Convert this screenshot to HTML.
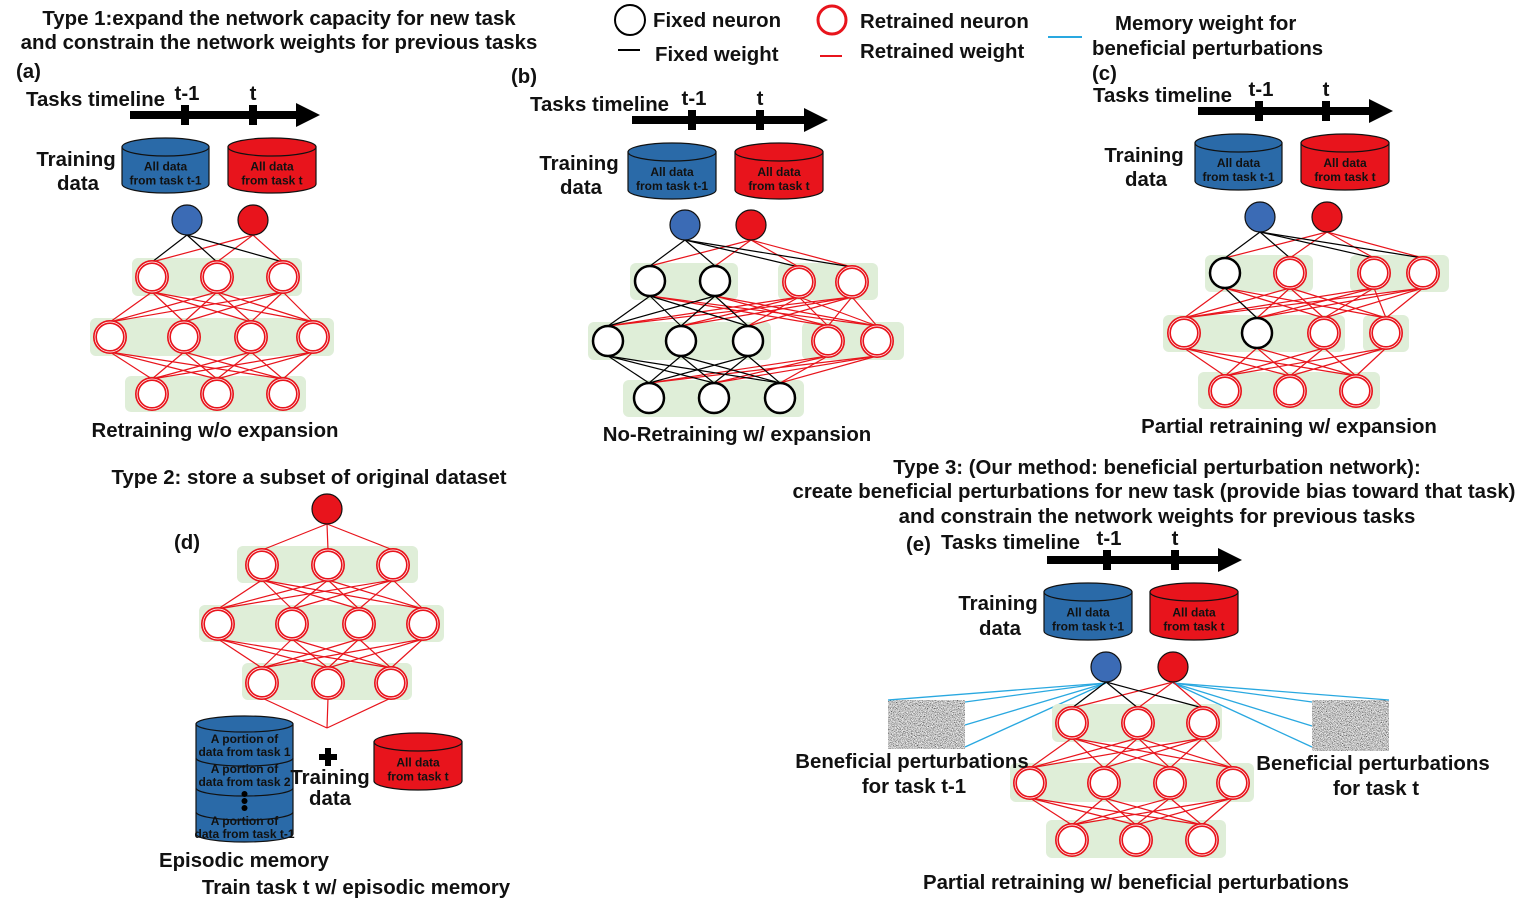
<!DOCTYPE html>
<html><head><meta charset="utf-8"><style>
body{margin:0;background:#fff}
svg text{font-family:"Liberation Sans",sans-serif;font-weight:bold;fill:#111}
</style></head><body>
<svg id="s" width="1522" height="900" viewBox="0 0 1522 900" xmlns="http://www.w3.org/2000/svg">
<defs>
<filter id="noise" x="0" y="0" width="100%" height="100%"><feTurbulence type="turbulence" baseFrequency="1.6" numOctaves="1" seed="3"/><feColorMatrix type="matrix" values="0 0 0 0 0  0 0 0 0 0  0 0 0 0 0  0 0 0 0 0"/><feColorMatrix type="matrix" values="0 0 0 0 0.5 0 0 0 0 0.5 0 0 0 0 0.5 0 0 0 0 1"/></filter>
<filter id="noise2" x="0" y="0" width="100%" height="100%"><feTurbulence type="fractalNoise" baseFrequency="1.2" numOctaves="1" seed="7"/><feColorMatrix type="matrix" values="2.2 0 0 0 -0.55  2.2 0 0 0 -0.55  2.2 0 0 0 -0.55  0 0 0 0 1"/></filter>
</defs>
<g id="g"></g>
</svg>
<script>
const g=document.getElementById('g');let h='';const FS=20.4;
function T(x,y,t,sz,anc){h+=`<text x="${x}" y="${y}" font-size="${sz||FS}" text-anchor="${anc||'start'}">${t}</text>`;}
function L(a,b,c,d,col,w){h+=`<line x1="${a}" y1="${b}" x2="${c}" y2="${d}" stroke="${col}" stroke-width="${w||1.2}"/>`;}
function R(x1,y1,x2,y2){h+=`<rect x="${x1}" y="${y1}" width="${x2-x1}" height="${y2-y1}" rx="6" fill="#dfeed8"/>`;}
function N(x,y,t){if(t=='k')h+=`<circle cx="${x}" cy="${y}" r="15" fill="#fff" stroke="#000" stroke-width="2.5"/>`;
 else if(t=='r')h+=`<circle cx="${x}" cy="${y}" r="15" fill="#fff" stroke="#e8141c" stroke-width="4"/><circle cx="${x}" cy="${y}" r="15" fill="none" stroke="#fff" stroke-width="0.7"/>`;
 else h+=`<circle cx="${x}" cy="${y}" r="15" fill="${t=='B'?'#3b6bb5':'#e8141c'}" stroke="#111" stroke-width="1.2"/>`;}
function cyl(x1,y1,x2,y2,col,l1,l2){const rx=(x2-x1)/2,cx=x1+rx,ry=9;
 h+=`<path d="M${x1} ${y1+ry} L${x1} ${y2-ry} A${rx} ${ry} 0 0 0 ${x2} ${y2-ry} L${x2} ${y1+ry} Z" fill="${col}" stroke="#111" stroke-width="1.2"/><ellipse cx="${cx}" cy="${y1+ry}" rx="${rx}" ry="${ry}" fill="${col}" stroke="#111" stroke-width="1.2"/>`;
 T(cx,(y1+y2)/2+5,l1,12,'middle');T(cx,(y1+y2)/2+19,l2,12,'middle');}
function arrow(x1,x2,y,t1,t2){h+=`<rect x="${x1}" y="${y-4}" width="${x2-x1-22}" height="8" fill="#000"/><polygon points="${x2-24},${y-12} ${x2},${y} ${x2-24},${y+12}" fill="#000"/>`;
 h+=`<rect x="${t1-4}" y="${y-10}" width="8" height="20" fill="#000"/><rect x="${t2-4}" y="${y-10}" width="8" height="20" fill="#000"/>`;
 T(t1+2,y-15,'t-1',FS,'middle');T(t2,y-15,'t',FS,'middle');}
function net(layers,top){
 const lines=[];
 for(let i=0;i<layers.length-1;i++)for(const a of layers[i])for(const b of layers[i+1]){
  const col=(a[2]=='k'&&b[2]=='k')?'#000':'#e8141c';lines.push([a,b,col]);}
 if(top){for(const b of layers[0]){lines.push([top[0],b,'#000']);lines.push([top[1],b,'#e8141c']);}}
 lines.sort((p,q)=>p[2]=='#000'?1:-1);
 for(const [a,b,c] of lines)L(a[0],a[1]+15,b[0],b[1]-15,c);
}
function nodes(layers,top){for(const l of layers)for(const n of l)N(n[0],n[1],n[2]);if(top){N(top[0][0],top[0][1],'B');N(top[1][0],top[1][1],'R');}}

T(279,25,'Type 1:expand the network capacity for new task',FS,'middle');
T(279,49,'and constrain the network weights for previous tasks',FS,'middle');
h+=`<circle cx="630" cy="20" r="15" fill="#fff" stroke="#000" stroke-width="2"/>`;T(653,27,'Fixed neuron');
L(618,50,640,50,'#000',2);T(655,61,'Fixed weight');
h+=`<circle cx="832" cy="20" r="14" fill="#fff" stroke="#e8141c" stroke-width="3"/>`;T(860,28,'Retrained neuron');
L(820,56,842,56,'#e8141c',2);T(860,58,'Retrained weight');
L(1048,37,1082,37,'#29a8e0',2);T(1115,30,'Memory weight for');T(1092,55,'beneficial perturbations');

// (a)
T(16,78,'(a)');T(26,106,'Tasks timeline');arrow(130,320,115,185,253);
T(76,166,'Training',FS,'middle');T(78,190,'data',FS,'middle');
cyl(122,138,209,193,'#2a6aa8','All data','from task t-1');cyl(228,138,316,193,'#e8141c','All data','from task t');
R(132,258,302,296);R(90,318,334,356);R(125,376,306,412);
let A=[[[152,277,'r'],[217,277,'r'],[283,277,'r']],[[110,337,'r'],[184,337,'r'],[251,337,'r'],[313,337,'r']],[[152,394,'r'],[217,394,'r'],[283,394,'r']]];
let At=[[187,220],[253,220]];net(A,At);nodes(A,At);
T(215,437,'Retraining w/o expansion',FS,'middle');

// (b)
T(511,83,'(b)');T(530,111,'Tasks timeline');arrow(632,828,120,692,760);
T(579,170,'Training',FS,'middle');T(581,194,'data',FS,'middle');
cyl(628,143,716,199,'#2a6aa8','All data','from task t-1');cyl(735,143,823,199,'#e8141c','All data','from task t');
R(630,263,738,300);R(778,263,878,300);R(588,322,771,360);R(802,322,904,360);R(623,380,804,417);
let B=[[[650,281,'k'],[715,281,'k'],[799,282,'r'],[852,282,'r']],[[608,341,'k'],[681,341,'k'],[748,341,'k'],[828,341,'r'],[877,341,'r']],[[649,398,'k'],[714,398,'k'],[780,398,'k']]];
let Bt=[[685,225],[751,225]];net(B,Bt);nodes(B,Bt);
T(737,441,'No-Retraining w/ expansion',FS,'middle');

// (c)
T(1092,80,'(c)');T(1093,102,'Tasks timeline');arrow(1198,1393,111,1259,1326);
T(1144,162,'Training',FS,'middle');T(1146,186,'data',FS,'middle');
cyl(1195,134,1282,190,'#2a6aa8','All data','from task t-1');cyl(1301,134,1389,190,'#e8141c','All data','from task t');
R(1205,255,1313,292);R(1350,255,1449,292);R(1163,315,1345,352);R(1363,315,1409,352);R(1198,372,1380,409);
let C=[[[1225,273,'k'],[1290,273,'r'],[1374,273,'r'],[1423,273,'r']],[[1184,333,'r'],[1257,333,'k'],[1324,333,'r'],[1386,333,'r']],[[1225,391,'r'],[1290,391,'r'],[1356,391,'r']]];
let Ct=[[1260,217],[1327,217]];net(C,Ct);nodes(C,Ct);
T(1289,433,'Partial retraining w/ expansion',FS,'middle');

// (d)
T(309,484,'Type 2: store a subset of original dataset',FS,'middle');
T(174,549,'(d)');
R(237,546,418,583);R(199,605,444,642);R(242,663,412,700);
let D=[[[262,565,'r'],[328,565,'r'],[393,565,'r']],[[218,624,'r'],[292,624,'r'],[359,624,'r'],[423,624,'r']],[[262,683,'r'],[328,683,'r'],[391,683,'r']]];
for(const b of D[0])L(327,524,b[0],b[1]-15,'#e8141c');
net(D);for(const a of D[2])L(a[0],a[1]+15,327,728,'#e8141c');nodes(D);N(327,509,'R');
(function(){const x1=196,x2=293,rx=48.5,cx=244.5,ry=8;
 h+=`<path d="M${x1} 724 L${x1} 834 A${rx} ${ry} 0 0 0 ${x2} 834 L${x2} 724 Z" fill="#2a6aa8" stroke="#111" stroke-width="1.2"/><ellipse cx="${cx}" cy="724" rx="${rx}" ry="${ry}" fill="#2a6aa8" stroke="#111" stroke-width="1.2"/>`;
 for(const y of [758,788,812])h+=`<path d="M${x1} ${y} A${rx} ${ry} 0 0 0 ${x2} ${y}" fill="none" stroke="#111" stroke-width="1.2"/>`;
 T(cx,743,'A portion of',12,'middle');T(cx,756,'data from task 1',12,'middle');
 T(cx,773,'A portion of',12,'middle');T(cx,786,'data from task 2',12,'middle');
 for(const y of [794,801,808])h+=`<circle cx="${cx}" cy="${y}" r="3" fill="#000"/>`;
 T(cx,825,'A portion of',12,'middle');T(cx,838,'data from task t-1',12,'middle');})();
h+=`<rect x="319" y="754" width="18" height="6" fill="#000"/><rect x="325" y="748" width="6" height="18" fill="#000"/>`;
T(330,784,'Training',FS,'middle');T(330,805,'data',FS,'middle');
cyl(374,733,462,790,'#e8141c','All data','from task t');
T(244,867,'Episodic memory',FS,'middle');T(356,894,'Train task t w/ episodic memory',FS,'middle');

// (e)
T(1157,474,'Type 3: (Our method: beneficial perturbation network):',FS,'middle');
T(1154,498,'create beneficial perturbations for new task (provide bias toward that task)',FS,'middle');
T(1157,523,'and constrain the network weights for previous tasks',FS,'middle');
T(906,551,'(e)');T(941,549,'Tasks timeline');arrow(1047,1242,560,1107,1175);
T(998,610,'Training',FS,'middle');T(1000,635,'data',FS,'middle');
cyl(1044,583,1132,640,'#2a6aa8','All data','from task t-1');cyl(1150,583,1238,640,'#e8141c','All data','from task t');
h+=`<rect x="888" y="700" width="77" height="49" filter="url(#noise2)"/><rect x="1312" y="700" width="77" height="51" filter="url(#noise2)"/>`;
for(const [x,y] of [[888,700],[965,702],[965,725],[965,747]])L(1106,683,x,y,'#29a8e0',1.3);
for(const [x,y] of [[1389,700],[1312,702],[1312,726],[1312,747]])L(1173,683,x,y,'#29a8e0',1.3);
R(1052,704,1222,742);R(1010,763,1254,802);R(1046,820,1226,858);
let E=[[[1072,723,'r'],[1138,723,'r'],[1203,723,'r']],[[1030,783,'r'],[1104,783,'r'],[1170,783,'r'],[1233,783,'r']],[[1072,840,'r'],[1136,840,'r'],[1202,840,'r']]];
let Et=[[1106,667],[1173,667]];net(E,Et);nodes(E,Et);
T(912,768,'Beneficial perturbations',FS,'middle');T(914,793,'for task t-1',FS,'middle');
T(1373,770,'Beneficial perturbations',FS,'middle');T(1376,795,'for task t',FS,'middle');
T(1136,889,'Partial retraining w/ beneficial perturbations',FS,'middle');
g.innerHTML=h;
</script>
</body></html>
